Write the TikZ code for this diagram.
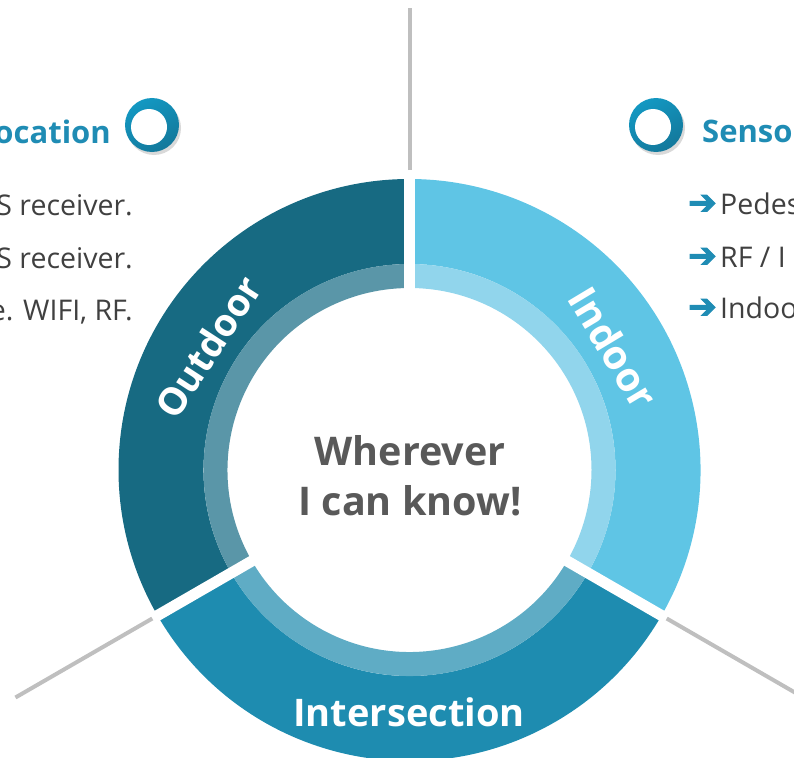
\documentclass[tikz,border=0pt]{standalone}
\usepackage{fontspec}
\setmainfont{Open Sans}
\newfontfamily\arrowfont[FakeBold=3]{DejaVu Sans}
\usetikzlibrary{shadows}
\definecolor{outdoorc}{HTML}{176A82}
\definecolor{outdoorl}{HTML}{5A96A8}
\definecolor{interc}{HTML}{1E8CB0}
\definecolor{interl}{HTML}{5FACC5}
\definecolor{indoorc}{HTML}{5FC5E5}
\definecolor{indoorl}{HTML}{91D5EC}
\definecolor{titlec}{HTML}{1F8CB4}
\definecolor{bodyc}{HTML}{404040}
\definecolor{centerc}{HTML}{595959}
\definecolor{linec}{HTML}{BFBFBF}
\definecolor{icontop}{HTML}{1398C2}
\definecolor{iconbot}{HTML}{13789B}
\begin{document}
\begin{tikzpicture}[x=1pt,y=1pt,
  sizetitle/.style={font=\fontsize{31pt}{37pt}\selectfont\bfseries, text=titlec, inner sep=0pt},
  bodytext/.style={font=\fontsize{28.5pt}{34pt}\selectfont, text=bodyc, inner sep=0pt},
  ringlabel/.style={font=\fontsize{38pt}{44pt}\selectfont\bfseries, text=white, inner sep=0pt},
  centertext/.style={font=\fontsize{39.5pt}{46pt}\selectfont\bfseries, text=centerc, inner sep=0pt},
  guide/.style={draw=linec, line width=4pt},
  gapline/.style={draw=white, line width=11pt},
  arrowglyph/.style={font=\arrowfont\fontsize{34pt}{40pt}\selectfont, text=titlec, inner sep=0pt},
  iconring/.style={circle, minimum size=54pt, inner sep=0pt, top color=icontop, bottom color=iconbot, shading angle=30, drop shadow={shadow xshift=2pt, shadow yshift=-3pt, opacity=0.3}},
  iconhole/.style={circle, minimum size=36pt, inner sep=0pt, fill=white},
]
\useasboundingbox (0,0) rectangle (794,-757);
\clip (0,0) rectangle (794,-757);
\coordinate (C) at (409.5,-470);
\begin{scope}[shift={(C)}]
  % Outdoor
  \fill[outdoorc] (90:291pt) arc[start angle=90,end angle=210,radius=291pt] -- (210:206pt) arc[start angle=210,end angle=90,radius=206pt] -- cycle;
  \fill[outdoorl] (90:206pt) arc[start angle=90,end angle=210,radius=206pt] -- (210:182pt) arc[start angle=210,end angle=90,radius=182pt] -- cycle;
  % Intersection
  \fill[interc] (210:291pt) arc[start angle=210,end angle=330,radius=291pt] -- (330:206pt) arc[start angle=330,end angle=210,radius=206pt] -- cycle;
  \fill[interl] (210:206pt) arc[start angle=210,end angle=330,radius=206pt] -- (330:182pt) arc[start angle=330,end angle=210,radius=182pt] -- cycle;
  % Indoor
  \fill[indoorc] (330:291pt) arc[start angle=330,end angle=450,radius=291pt] -- (450:206pt) arc[start angle=450,end angle=330,radius=206pt] -- cycle;
  \fill[indoorl] (330:206pt) arc[start angle=330,end angle=450,radius=206pt] -- (450:182pt) arc[start angle=450,end angle=330,radius=182pt] -- cycle;
  % gaps
  \coordinate (o) at (0,0);
  \coordinate (g1) at (90:296pt);
  \coordinate (g2) at (210:296pt);
  \coordinate (g3) at (330:296pt);
  \draw[gapline] (o) -- (g1);
  \draw[gapline] (o) -- (g2);
  \draw[gapline] (o) -- (g3);
  % guide lines
  \coordinate (t1s) at (90:300pt);  \coordinate (t1e) at (90:462pt);
  \coordinate (t2s) at (210:297pt); \coordinate (t2e) at (210:455pt);
  \coordinate (t3s) at (330:297pt); \coordinate (t3e) at (330:470pt);
  \draw[guide] (t1s) -- (t1e);
  \draw[guide] (t2s) -- (t2e);
  \draw[guide] (t3s) -- (t3e);
  % ring labels
  \node[ringlabel, rotate=57] (outL) at (148.6:236pt) {Outdoor};
  \node[ringlabel, rotate=-59, font=\fontsize{40pt}{46pt}\selectfont\bfseries] (inL) at (31:238pt) {Indoor};
\end{scope}
\node[ringlabel, anchor=base] (intL) at (409,-726) {Intersection};
\node[centertext, anchor=base] (c1) at (410,-465) {Wherever};
\node[centertext, anchor=base] (c2) at (410,-515) {I can know!};
% icons
\node[iconring] (iconL) at (152,-125) {};
\node[iconhole] (iconLh) at ([shift={(-3pt,-2pt)}]iconL.center) {};
\node[iconring] (iconR) at (656,-125) {};
\node[iconhole] (iconRh) at ([shift={(-3pt,-2pt)}]iconR.center) {};
% titles
\node[sizetitle, anchor=base east] (locT) at (111,-143) {ocation};
\node[sizetitle, anchor=base west] (senT) at (702,-142) {Senso};
% left body lines
\node[bodytext, anchor=base east] (l1) at (133,-215) {S receiver.};
\node[bodytext, anchor=base east] (l2) at (133,-268) {S receiver.};
\node[bodytext, anchor=base east] (l3) at (133,-320) {e. WIFI, RF.};
% right body lines
\node[arrowglyph, anchor=base west] (a1) at (688,-214) {➔};
\node[bodytext, anchor=base west] (r1) at (720,-214) {Pedes};
\node[arrowglyph, anchor=base west] (a2) at (688,-267) {➔};
\node[bodytext, anchor=base west] (r2) at (720,-267) {RF / I};
\node[arrowglyph, anchor=base west] (a3) at (688,-318) {➔};
\node[bodytext, anchor=base west] (r3) at (720,-318) {Indoo};
\end{tikzpicture}
\end{document}
